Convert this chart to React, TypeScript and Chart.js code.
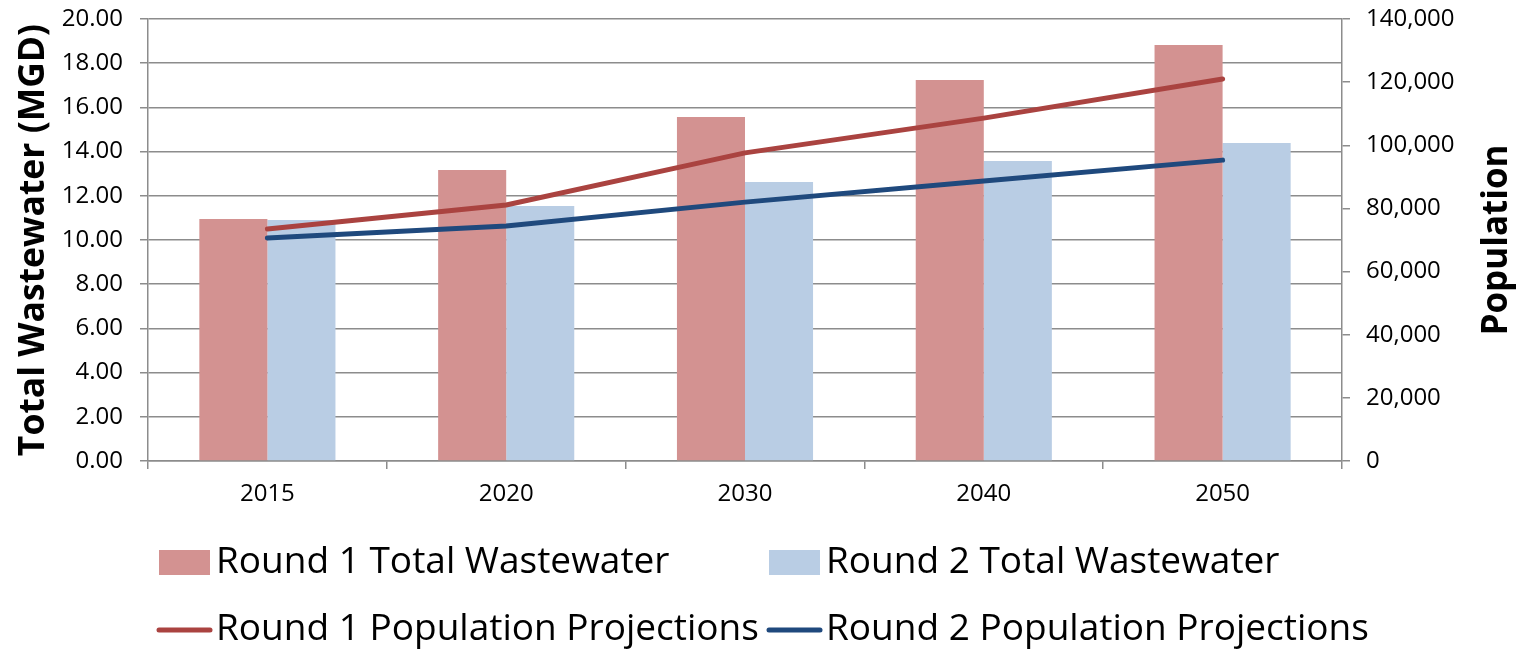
import React, { useEffect, useRef } from 'react';
import { Chart, registerables } from 'chart.js';

Chart.register(...registerables);

const categories = ['2015', '2020', '2030', '2040', '2050'];
const round1Wastewater = [10.95, 13.17, 15.57, 17.24, 18.82];
const round2Wastewater = [10.9, 11.54, 12.62, 13.57, 14.39];
const round1Population = [73500, 81100, 97600, 108600, 121000];
const round2Population = [70600, 74400, 82000, 88700, 95300];

const seriesLabels = [
  'Round 1 Total Wastewater',
  'Round 2 Total Wastewater',
  'Round 1 Population Projections',
  'Round 2 Population Projections',
];
const leftAxisTitle = 'Total Wastewater (MGD)';
const rightAxisTitle = 'Population';

const FONT = '"Open Sans", "Liberation Sans", sans-serif';
const GRID = '#8c8c8c';

const legendPlugin = {
  id: 'customLegend',
  afterDraw(chart: any) {
    const ctx = chart.ctx as CanvasRenderingContext2D;
    const cols = [159, 769];
    const rows = [562, 629];
    ctx.save();
    ctx.font = `37px ${FONT}`;
    ctx.textBaseline = 'middle';
    ctx.textAlign = 'left';
    chart.data.datasets.forEach((ds: any, i: number) => {
      const x = cols[i % 2];
      const y = rows[Math.floor(i / 2)];
      if (ds.type === 'line') {
        ctx.strokeStyle = ds.borderColor;
        ctx.lineWidth = 5;
        ctx.lineCap = 'round';
        ctx.beginPath();
        ctx.moveTo(x, y + 1);
        ctx.lineTo(x + 51, y + 1);
        ctx.stroke();
      } else {
        ctx.fillStyle = ds.backgroundColor;
        ctx.fillRect(x, y - 12, 51, 25);
      }
      ctx.fillStyle = '#000';
      ctx.fillText(ds.label, x + 57, y);
    });
    ctx.restore();
  },
};

const rightTitlePlugin = {
  id: 'rightTitle',
  afterDraw(chart: any) {
    const ctx = chart.ctx as CanvasRenderingContext2D;
    const area = chart.chartArea;
    ctx.save();
    ctx.translate(1497, (area.top + area.bottom) / 2);
    ctx.rotate(-Math.PI / 2);
    ctx.font = `bold 35px ${FONT}`;
    ctx.fillStyle = '#000';
    ctx.textAlign = 'center';
    ctx.textBaseline = 'middle';
    ctx.fillText(rightAxisTitle, 0, 0);
    ctx.restore();
  },
};

export default function App() {
  const canvasRef = useRef<HTMLCanvasElement | null>(null);

  useEffect(() => {
    document.body.style.margin = '0';
    const canvas = canvasRef.current;
    if (!canvas) return;
    const chart = new Chart(canvas, {
      type: 'bar',
      data: {
        labels: categories,
        datasets: [
          {
            type: 'bar',
            label: seriesLabels[0],
            data: round1Wastewater,
            backgroundColor: '#d39291',
            yAxisID: 'y',
            order: 2,
            categoryPercentage: 0.57,
            barPercentage: 1,
          } as any,
          {
            type: 'bar',
            label: seriesLabels[1],
            data: round2Wastewater,
            backgroundColor: '#b9cde4',
            yAxisID: 'y',
            order: 2,
            categoryPercentage: 0.57,
            barPercentage: 1,
          } as any,
          {
            type: 'line',
            label: seriesLabels[2],
            data: round1Population,
            borderColor: '#aa4340',
            backgroundColor: '#aa4340',
            borderWidth: 5,
            pointRadius: 0,
            tension: 0,
            yAxisID: 'y1',
            order: 0,
            borderCapStyle: 'round',
          } as any,
          {
            type: 'line',
            label: seriesLabels[3],
            data: round2Population,
            borderColor: '#1f497d',
            backgroundColor: '#1f497d',
            borderWidth: 5,
            pointRadius: 0,
            tension: 0,
            yAxisID: 'y1',
            order: 0,
            borderCapStyle: 'round',
          } as any,
        ],
      },
      options: {
        responsive: false,
        animation: false,
        devicePixelRatio: 1,
        layout: { padding: { top: 19, left: 0, right: 0, bottom: 0 } },
        plugins: {
          legend: { display: false },
          tooltip: { enabled: false },
          title: { display: false },
        },
        scales: {
          x: {
            grid: {
              offset: true,
              drawOnChartArea: false,
              drawTicks: true,
              tickLength: 8,
              color: GRID,
              lineWidth: 1.5,
            },
            border: { display: true, color: GRID, width: 1.5 },
            ticks: {
              color: '#000',
              font: { family: FONT, size: 24 },
              padding: 11,
            },
            afterFit: (s: any) => {
              s.height = 188;
              s.paddingLeft = 0;
              s.paddingRight = 0;
            },
          },
          y: {
            position: 'left',
            min: 0,
            max: 20,
            grid: {
              color: GRID,
              lineWidth: 1.5,
              drawTicks: true,
              tickLength: 8,
            },
            border: { display: true, color: GRID, width: 1.5 },
            ticks: {
              stepSize: 2,
              color: '#000',
              font: { family: FONT, size: 24 },
              padding: 17,
              callback: (v: any) => Number(v).toFixed(2),
            },
            title: {
              display: true,
              text: leftAxisTitle,
              color: '#000',
              font: { family: FONT, size: 35.5, weight: 'bold' },
              padding: { top: 13, bottom: 0 },
            },
            afterFit: (s: any) => {
              s.width = 148;
              s.paddingTop = 0;
              s.paddingBottom = 0;
            },
          },
          y1: {
            position: 'right',
            min: 0,
            max: 140000,
            grid: {
              drawOnChartArea: false,
              drawTicks: true,
              tickLength: 8,
              color: GRID,
              lineWidth: 1.5,
            },
            border: { display: true, color: GRID, width: 1.5 },
            ticks: {
              stepSize: 20000,
              color: '#000',
              font: { family: FONT, size: 24 },
              padding: 16,
              callback: (v: any) => Number(v).toLocaleString('en-US'),
            },
            afterFit: (s: any) => {
              s.width = 178;
              s.paddingTop = 0;
              s.paddingBottom = 0;
            },
          },
        },
      } as any,
      plugins: [legendPlugin, rightTitlePlugin],
    });
    return () => {
      chart.destroy();
    };
  }, []);

  return (
    <div style={{ width: 1520, height: 649, background: '#fff' }}>
      <canvas ref={canvasRef} width={1520} height={649} style={{ display: 'block', width: 1520, height: 649 }} />
    </div>
  );
}
